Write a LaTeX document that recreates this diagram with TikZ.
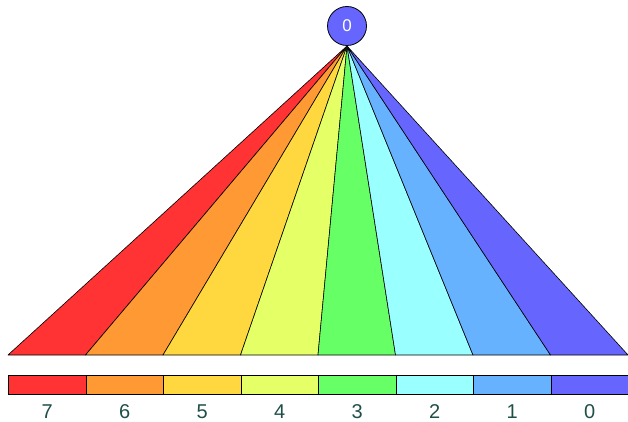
\documentclass[tikz,border=0pt]{standalone}
\usepackage{fontspec}
\setmainfont{Liberation Sans}
\definecolor{c7}{HTML}{FF3333}
\definecolor{c6}{HTML}{FF9933}
\definecolor{c5}{HTML}{FFD83F}
\definecolor{c4}{HTML}{E5FF66}
\definecolor{c3}{HTML}{66FF66}
\definecolor{c2}{HTML}{99FFFF}
\definecolor{c1}{HTML}{66B2FF}
\definecolor{c0}{HTML}{6666FF}
\definecolor{lab}{HTML}{1F4F47}
\begin{document}
\begin{tikzpicture}[x=1pt,y=-1pt,
  wedge/.style={draw=black,line width=0.6pt,line join=round},
  seg/.style={draw=black,line width=0.8pt},
  lbl/.style={text=lab,font=\fontsize{20}{20}\selectfont,inner sep=0pt}]
\useasboundingbox (0,0) rectangle (628,422);
\coordinate (apex) at (347,46);
\foreach \i/\c [count=\k from 0] in {7/c7,6/c6,5/c5,4/c4,3/c3,2/c2,1/c1,0/c0}{
  \pgfmathsetmacro{\xa}{8+77.5*\k}
  \pgfmathsetmacro{\xb}{8+77.5*(\k+1)}
  \coordinate (b\k) at (\xa,355);
  \coordinate (e\k) at (\xb,355);
  \fill[\c,wedge] (apex) -- (b\k) -- (e\k) -- cycle;
  \node[seg,fill=\c,minimum width=77.5pt,minimum height=19pt,inner sep=0pt,anchor=north west] (s\k) at (\xa,375) {};
  \node[lbl] (l\k) at ([yshift=-17pt]s\k.south) {\i};
}
\node[circle,draw=black,line width=0.8pt,fill=c0,minimum size=39pt,inner sep=0pt,text=white,font=\fontsize{17}{17}\selectfont] (top) at (347,26) {0};
\end{tikzpicture}
\end{document}
